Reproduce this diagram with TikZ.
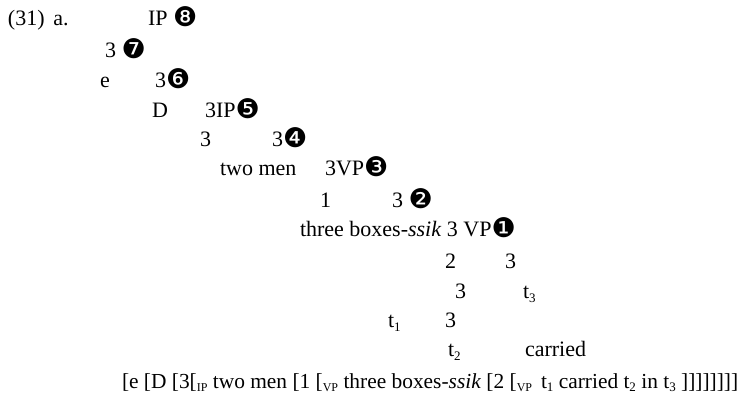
\documentclass[tikz,border=0pt]{standalone}
\usepackage{fontspec}
\setmainfont{Liberation Serif}
\newfontfamily\dingfont{DejaVu Sans}
\newcommand{\cn}[1]{\raisebox{-0.12ex}{\dingfont\fontsize{27}{27}\selectfont #1}}
\newcommand{\lab}[1]{\raisebox{-0.35ex}{\fontsize{12}{12}\selectfont #1}}
\newcommand{\sbn}[1]{\raisebox{-0.4ex}{\fontsize{13}{13}\selectfont #1}}
\tikzset{
  lbl/.style={anchor=base west, inner sep=0pt, outer sep=0pt, font=\fontsize{22}{26}\selectfont},
  brk/.style={anchor=base west, inner sep=0pt, outer sep=0pt, font=\fontsize{21.4}{26}\selectfont},
}
\begin{document}
\begin{tikzpicture}[x=1pt,y=-1pt]
\useasboundingbox (0,0) rectangle (745,405);
% row 1
\node[lbl] (ex) at (8,25) {(31)\hspace{0.4em}a.};
\node[lbl] (r1a) at (148,25) {IP \cn{❽}};
% row 2
\node[lbl] (r2a) at (105,57) {3 \cn{❼}};
% row 3
\node[lbl] (r3a) at (100,87) {e};
\node[lbl] (r3b) at (155,87) {3\cn{❻}};
% row 4
\node[lbl] (r4a) at (152,117) {D};
\node[lbl] (r4b) at (205,117) {3IP\cn{❺}};
% row 5
\node[lbl] (r5a) at (200,146) {3};
\node[lbl] (r5b) at (272,146) {3\cn{❹}};
% row 6
\node[lbl] (r6a) at (220,175) {two men};
\node[lbl] (r6b) at (325,175) {3VP\cn{❸}};
% row 7
\node[lbl] (r7a) at (320,207) {1};
\node[lbl] (r7b) at (392,207) {3 \cn{❷}};
% row 8
\node[lbl] (r8a) at (300,236) {three boxes-\textit{ssik} 3 VP\cn{❶}};
% row 9
\node[lbl] (r9a) at (445,268) {2};
\node[lbl] (r9b) at (505,268) {3};
% row 10
\node[lbl] (r10a) at (455,298) {3};
\node[lbl] (r10b) at (523,298) {t\sbn{3}};
% row 11
\node[lbl] (r11a) at (388,327) {t\sbn{1}};
\node[lbl] (r11b) at (445,327) {3};
% row 12
\node[lbl] (r12a) at (448,356) {t\sbn{2}};
\node[lbl] (r12b) at (525,356) {carried};
% row 13
\node[brk] (br) at (122,388) {[e [D [3[\lab{IP} two men [1 [\lab{VP} three boxes-\textit{ssik} [2 [\lab{VP}\, t\sbn{1} carried t\sbn{2} in t\sbn{3} ]]]]]]]]};
\end{tikzpicture}
\end{document}
